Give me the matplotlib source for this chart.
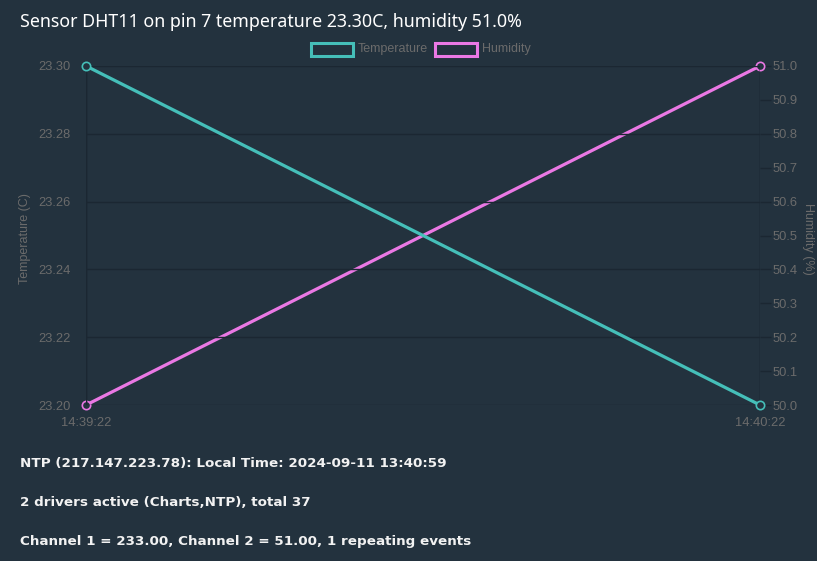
"""DHT11 sensor chart: temperature and humidity on twin axes, dark dashboard style."""
import matplotlib
matplotlib.use("Agg")
import matplotlib.pyplot as plt
from matplotlib.patches import Rectangle

plt.rcParams["font.family"] = ["Liberation Sans", "DejaVu Sans"]

BG = "#23323e"
GRID = "#1b2732"
TICK = "#6b6b6b"
TEAL = "#45bfb9"
PINK = "#ea78e4"

times = ["14:39:22", "14:40:22"]
time_pos = [0, 60]
temperature = [23.30, 23.20]
humidity = [50.0, 51.0]
temp_ticks = [23.20, 23.22, 23.24, 23.26, 23.28, 23.30]
hum_ticks = [50.0, 50.1, 50.2, 50.3, 50.4, 50.5, 50.6, 50.7, 50.8, 50.9, 51.0]

title = "Sensor DHT11 on pin 7 temperature 23.30C, humidity 51.0%"
footer = [
    "NTP (217.147.223.78): Local Time: 2024-09-11 13:40:59",
    "2 drivers active (Charts,NTP), total 37",
    "Channel 1 = 233.00, Channel 2 = 51.00, 1 repeating events",
]

W, H = 817, 561
fig = plt.figure(figsize=(W / 100, H / 100), dpi=100, facecolor=BG)
ax = fig.add_axes([86 / W, 1 - 405 / H, (760 - 86) / W, (405 - 66) / H], facecolor=BG)
ax2 = ax.twinx()

ax.plot(time_pos, temperature, color=TEAL, lw=2.3, marker="o", ms=6,
        mfc=BG, mec=TEAL, mew=1.2, zorder=3, clip_on=False)
ax2.plot(time_pos, humidity, color=PINK, lw=2.3, marker="o", ms=6,
         mfc=BG, mec=PINK, mew=1.2, zorder=3, clip_on=False)

ax.set_xlim(time_pos[0], time_pos[-1])
ax.set_ylim(temp_ticks[0], temp_ticks[-1])
ax2.set_ylim(hum_ticks[0], hum_ticks[-1])
ax.set_xticks(time_pos, times)
ax.set_yticks(temp_ticks, [f"{t:.2f}" for t in temp_ticks])
ax2.set_yticks(hum_ticks, [f"{t:.1f}" for t in hum_ticks])

for a in (ax, ax2):
    for s in a.spines.values():
        s.set_visible(False)
    a.tick_params(colors=TICK, labelsize=9.3, length=0, pad=11)
ax.tick_params(axis="x", pad=9)
ax2.tick_params(axis="y", length=8, color=GRID, width=1, pad=1)

ax.grid(True, color=GRID, lw=1)
ax.set_axisbelow(True)
ax.set_zorder(ax2.get_zorder() + 1)
ax.patch.set_visible(False)
ax2.patch.set_visible(True)
ax2.patch.set_facecolor(BG)
for x in time_pos:
    ax.axvline(x, color=GRID, lw=1, zorder=0)

ax.set_ylabel("Temperature (C)", color=TICK, fontsize=9)
ax.yaxis.set_label_coords(-0.082, 0.49)
ax2.set_ylabel("Humidity (%)", color=TICK, fontsize=9, rotation=270, va="center")
ax2.yaxis.set_label_coords(1.071, 0.49)

fig.text(20 / W, 1 - 22 / H, title, color="white", fontsize=12.8,
         family="Noto Sans", va="center", ha="left")

# legend boxes
for x0, col, lab in [(311, TEAL, "Temperature"), (435, PINK, "Humidity")]:
    fig.patches.append(Rectangle((x0 / W, 1 - 56 / H), 42 / W, 13 / H,
                                 transform=fig.transFigure, facecolor=BG,
                                 edgecolor=col, lw=2.2))
    fig.text((x0 + 47) / W, 1 - 49 / H, lab, color=TICK, fontsize=9,
             va="center", ha="left")

for i, line in enumerate(footer):
    fig.text(20 / W, 1 - (464 + 38.5 * i) / H, line, color="#f2f2f2",
             fontsize=9.7, fontweight="bold", family="DejaVu Sans",
             va="center", ha="left")

fig.savefig("out.png", dpi=100, facecolor=BG)
